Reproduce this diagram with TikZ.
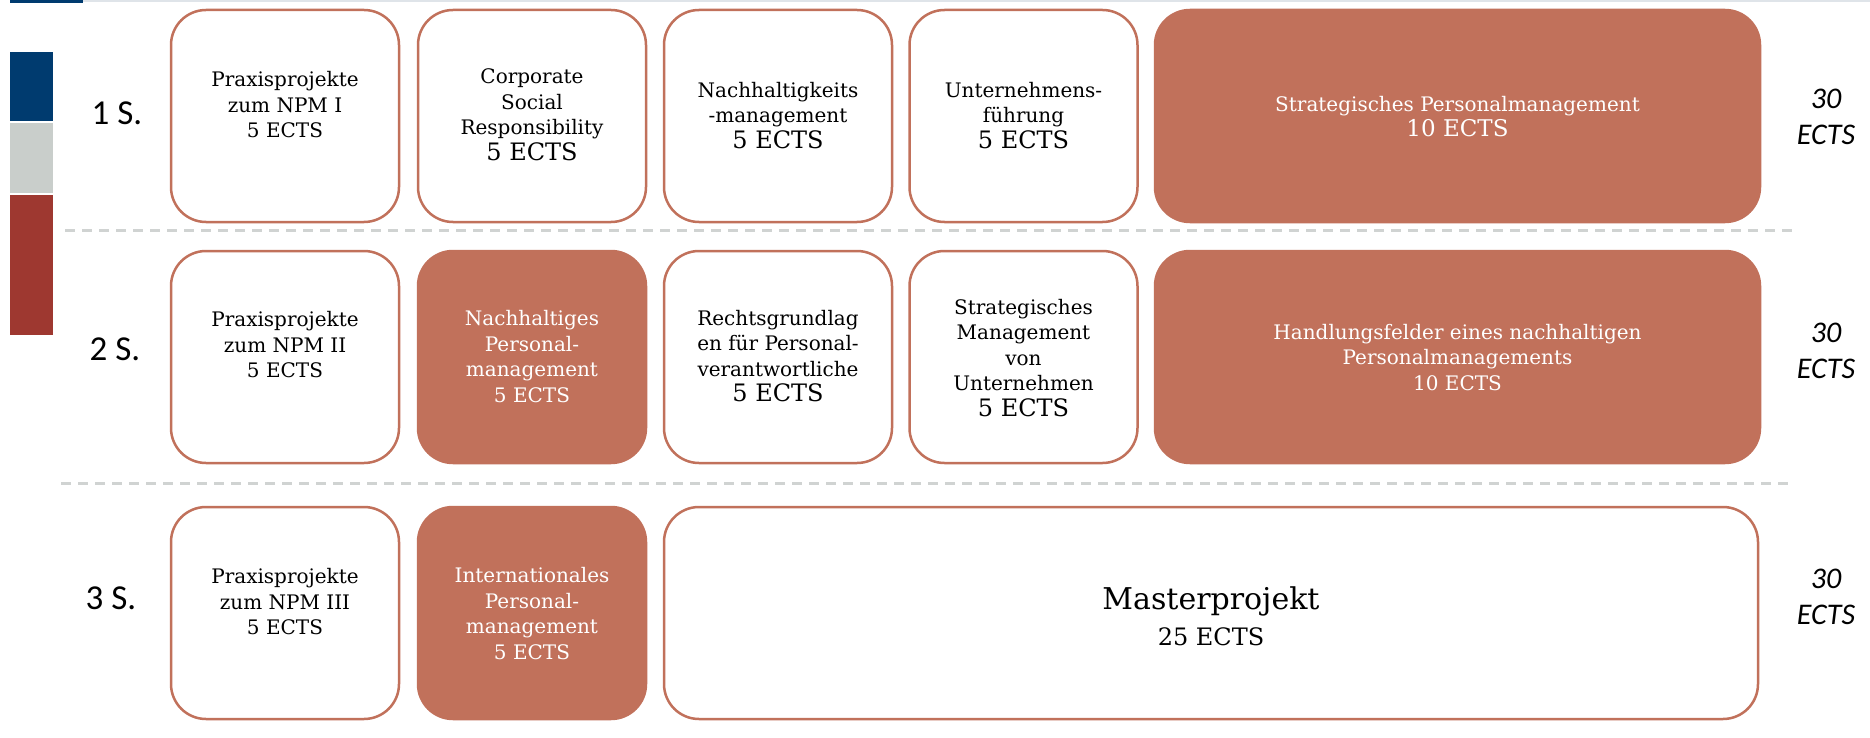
\documentclass[tikz,border=0pt]{standalone}
\usepackage{fontspec}
\setmainfont{DejaVu Serif}
\newfontfamily\calib{Carlito}
\definecolor{terra}{RGB}{193,113,91}
\definecolor{sepgray}{RGB}{208,211,210}
\definecolor{barblue}{RGB}{0,59,111}
\definecolor{bargray}{RGB}{201,206,203}
\definecolor{barred}{RGB}{158,56,48}
\definecolor{topgray}{RGB}{223,228,233}
\newcommand{\bigects}[1]{{\fontsize{12}{13}\selectfont #1}}
\begin{document}
\begin{tikzpicture}[x=0.5pt,y=-0.5pt,
  wbox/.style={draw=terra,line width=1.25pt,rounded corners=17.5pt,fill=white,
    minimum width=114pt,minimum height=106pt,inner sep=0pt},
  fbox/.style={wbox,fill=terra},
  widebox/.style={minimum width=302.5pt},
  wtxt/.style={font=\fontsize{10}{12.75}\selectfont,align=center,inner sep=0pt,text=black},
  ftxt/.style={wtxt,text=white},
  sem/.style={font=\calib\fontsize{17.5}{20}\selectfont,inner sep=0pt},
  tot/.style={font=\calib\itshape\fontsize{15}{18}\selectfont,align=center,inner sep=0pt},
  sep/.style={draw=sepgray,line width=1.5pt,dash pattern=on 5pt off 3.5pt}
]
\useasboundingbox (0,0) rectangle (1870,738);
\fill[white] (0,0) rectangle (1870,738);
% top line
\fill[topgray] (83,0) rectangle (1870,2.5);
\fill[barblue] (10,0) rectangle (83,2.7);
% left bars
\fill[barblue] (10,52) rectangle (53,121);
\fill[bargray] (10,123) rectangle (53,193);
\fill[barred] (10,195) rectangle (53,335);
% separators
\coordinate (s1a) at (65,230); \coordinate (s1b) at (1792,230);
\coordinate (s2a) at (61,483); \coordinate (s2b) at (1792,483);
\draw[sep] (s1a) -- (s1b);
\draw[sep] (s2a) -- (s2b);
% semester labels
\node[sem] (l1) at (117,113) {1 S.};
\node[sem] (l2) at (115,349) {2 S.};
\node[sem] (l3) at (111,598) {3 S.};
% totals
\node[tot] (t1) at (1826,116.5) {30\\ECTS};
\node[tot] (t2) at (1826,350.5) {30\\ECTS};
\node[tot] (t3) at (1826,596.5) {30\\ECTS};
% row 1
\node[wbox] (a1) at (285,116) {};
\node[wbox] (a2) at (532,116) {};
\node[wbox] (a3) at (778,116) {};
\node[wbox] (a4) at (1023.5,116) {};
\node[fbox,widebox] (a5) at (1457.5,116) {};
\node[wtxt] (a1t) at (285,105) {Praxisprojekte\\zum NPM I\\5 ECTS};
\node[wtxt] (a2t) at (532,114.5) {Corporate\\Social\\Responsibility\\\bigects{5 ECTS}};
\node[wtxt] (a3t) at (778,115.5) {Nachhaltigkeits\\-management\\\bigects{5 ECTS}};
\node[wtxt] (a4t) at (1023.5,115.5) {Unternehmens-\\führung\\\bigects{5 ECTS}};
\node[ftxt] (a5t) at (1457.5,116.5) {Strategisches Personalmanagement\\{\fontsize{11.5}{13}\selectfont 10 ECTS}};
% row 2
\node[wbox] (b1) at (285,357) {};
\node[fbox] (b2) at (532,357) {};
\node[wbox] (b3) at (778,357) {};
\node[wbox] (b4) at (1023.5,357) {};
\node[fbox,widebox] (b5) at (1457.5,357) {};
\node[wtxt] (b1t) at (285,345) {Praxisprojekte\\zum NPM II\\5 ECTS};
\node[ftxt] (b2t) at (532,356.5) {Nachhaltiges\\Personal-\\management\\5 ECTS};
\node[wtxt] (b3t) at (778,356) {Rechtsgrundlag\\en für Personal-\\verantwortliche\\\bigects{5 ECTS}};
\node[wtxt] (b4t) at (1023.5,358) {Strategisches\\Management\\von\\Unternehmen\\\bigects{5 ECTS}};
\node[ftxt] (b5t) at (1457.5,357.5) {Handlungsfelder eines nachhaltigen\\Personalmanagements\\10 ECTS};
% row 3
\node[wbox] (c1) at (285,613) {};
\node[fbox] (c2) at (532,613) {};
\node[wbox,minimum width=547pt] (c3) at (1211,613) {};
\node[wtxt] (c1t) at (285,602) {Praxisprojekte\\zum NPM III\\5 ECTS};
\node[ftxt] (c2t) at (532,613.5) {Internationales\\Personal-\\management\\5 ECTS};
\node[wtxt,font=\fontsize{15}{18}\selectfont] (c3t) at (1211,616) {Masterprojekt\\{\fontsize{12}{13}\selectfont 25 ECTS}};
\end{tikzpicture}
\end{document}
